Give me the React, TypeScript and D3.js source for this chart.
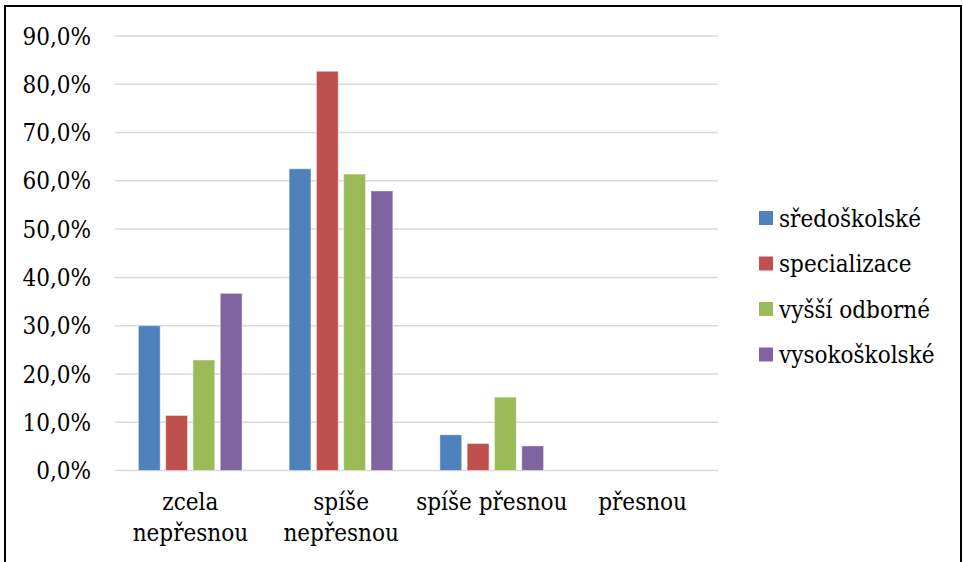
import * as d3 from "d3"

const categories = [
  ["zcela", "nepřesnou"],
  ["spíše", "nepřesnou"],
  ["spíše přesnou"],
  ["přesnou"],
]
const seriesNames = ["sředoškolské", "specializace", "vyšší odborné", "vysokoškolské"]
const seriesColors = ["#4F81BD", "#C0504D", "#9BBB59", "#8064A2"]

// values in %, one array per series
const stredoskolske = [30.0, 62.5, 7.4, 0]
const specializace = [11.4, 82.7, 5.6, 0]
const vyssiOdborne = [22.9, 61.4, 15.2, 0]
const vysokoskolske = [36.7, 57.9, 5.1, 0]
const seriesValues = [stredoskolske, specializace, vyssiOdborne, vysokoskolske]

const yTicks = [0, 10, 20, 30, 40, 50, 60, 70, 80, 90]

const W = 963
const H = 562
const FONT = '"DejaVu Serif Condensed", "DejaVu Serif"'

export default function App() {
  const margin = { left: 115, right: 245, top: 36, bottom: 91.5 }
  const y = d3
    .scaleLinear()
    .domain([0, 90])
    .range([H - margin.bottom, margin.top])
  const x0 = d3
    .scaleBand<number>()
    .domain(d3.range(categories.length))
    .range([margin.left, W - margin.right])
  const bw = x0.bandwidth()
  const x1 = d3
    .scaleBand<number>()
    .domain(d3.range(seriesNames.length))
    .range([bw * 0.155, bw * 0.843])
    .paddingInner(0.2)

  const fmt = (v: number) => v.toFixed(1).replace(".", ",") + "%"
  const txt = { fontFamily: FONT, fontSize: "24px", fontStretch: "condensed" }

  return (
    <svg
      width={W}
      height={H}
      style={{ position: "absolute", left: 0, top: 0, background: "#fff" }}
    >
      <rect x={5} y={6} width={956} height={600} fill="#fff" stroke="#000" strokeWidth={2} />
      {yTicks.map((t) => (
        <g key={t}>
          <line
            x1={margin.left}
            x2={W - margin.right}
            y1={y(t)}
            y2={y(t)}
            stroke="#d9d9d9"
            strokeWidth={1.5}
          />
          <text x={91} y={y(t)} dy="0.36em" textAnchor="end" style={txt} fill="#000">
            {fmt(t)}
          </text>
        </g>
      ))}
      {categories.map((_, ci) => (
        <g key={ci} transform={`translate(${x0(ci)},0)`}>
          {seriesValues.map((vals, si) =>
            vals[ci] > 0 ? (
              <rect
                key={si}
                x={x1(si)}
                y={y(vals[ci])}
                width={x1.bandwidth()}
                height={y(0) - y(vals[ci])}
                fill={seriesColors[si]}
                stroke="#fff"
                strokeOpacity={0.45}
                strokeWidth={1}
              />
            ) : null,
          )}
        </g>
      ))}
      {categories.map((lines, ci) => (
        <text
          key={ci}
          x={(x0(ci) ?? 0) + bw / 2}
          y={510}
          textAnchor="middle"
          style={txt}
          fill="#000"
        >
          {lines.map((l, li) => (
            <tspan key={li} x={(x0(ci) ?? 0) + bw / 2} dy={li === 0 ? 0 : 31}>
              {l}
            </tspan>
          ))}
        </text>
      ))}
      {seriesNames.map((name, si) => {
        const cy = 218 + si * 45.5
        return (
          <g key={name}>
            <rect x={759} y={cy - 7} width={14} height={14} fill={seriesColors[si]} />
            <text x={779} y={cy} dy="0.36em" style={txt} fill="#000">
              {name}
            </text>
          </g>
        )
      })}
    </svg>
  )
}
